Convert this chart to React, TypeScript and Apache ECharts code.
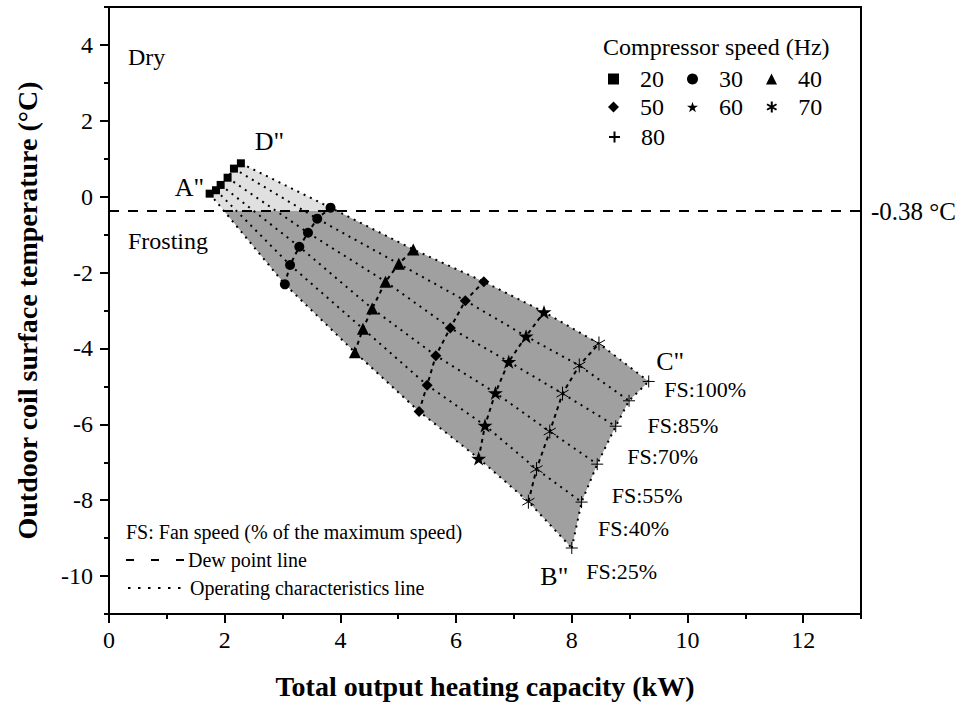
import { useEffect, useRef } from "react";
import * as echarts from "echarts";

// Fan speed (% of maximum) for each point along a compressor-speed curve
const fanSpeeds = [25, 40, 55, 70, 85, 100];
// Compressor speeds (Hz)
const compressorSpeeds = [20, 30, 40, 50, 60, 70, 80];

// Total output heating capacity (kW), one entry per fan speed
const capacity20 = [1.74, 1.85, 1.93, 2.05, 2.16, 2.28];
const capacity30 = [3.04, 3.13, 3.29, 3.44, 3.6, 3.83];
const capacity40 = [4.25, 4.39, 4.55, 4.78, 5.01, 5.26];
const capacity50 = [5.36, 5.5, 5.65, 5.9, 6.16, 6.48];
const capacity60 = [6.39, 6.5, 6.68, 6.91, 7.21, 7.52];
const capacity70 = [7.25, 7.39, 7.62, 7.84, 8.13, 8.47];
const capacity80 = [8.0, 8.17, 8.44, 8.76, 8.99, 9.33];

// Outdoor coil surface temperature (°C), one entry per fan speed
const temperature20 = [0.08, 0.17, 0.31, 0.5, 0.74, 0.88];
const temperature30 = [-2.31, -1.8, -1.32, -0.95, -0.58, -0.29];
const temperature40 = [-4.1, -3.48, -2.95, -2.24, -1.77, -1.39];
const temperature50 = [-5.66, -4.97, -4.19, -3.46, -2.74, -2.24];
const temperature60 = [-6.9, -6.03, -5.17, -4.35, -3.68, -3.04];
const temperature70 = [-8.04, -7.18, -6.19, -5.19, -4.45, -3.87];
const temperature80 = [-9.26, -8.05, -7.05, -6.05, -5.38, -4.87];

// Dew point of the outdoor air (°C)
const dewPoint = -0.38;

// Axis ticks
const xMajorTicks = [0, 2, 4, 6, 8, 10, 12];
const xMinorTicks = [1, 3, 5, 7, 9, 11, 13];
const yMajorTicks = [-10, -8, -6, -4, -2, 0, 2, 4];
const yMinorTicks = [-11, -9, -7, -5, -3, -1, 1, 3, 5];

const capacities = [capacity20, capacity30, capacity40, capacity50, capacity60, capacity70, capacity80];
const temperatures = [temperature20, temperature30, temperature40, temperature50, temperature60, temperature70, temperature80];

const FONT = '"Liberation Serif", "Times New Roman", serif';
const STAR = "path://M0,-1 L0.2245,-0.309 L0.951,-0.309 L0.363,0.118 L0.588,0.809 L0,0.382 L-0.588,0.809 L-0.363,0.118 L-0.951,-0.309 L-0.2245,-0.309 Z";
const ASTERISK = "path://M0,-1 L0,1 M-0.866,-0.5 L0.866,0.5 M-0.866,0.5 L0.866,-0.5";
const PLUS = "path://M0,-1 L0,1 M-1,0 L1,0";
const markerSymbols = ["rect", "circle", "triangle", "diamond", STAR, ASTERISK, PLUS];
const markerSizes = [8, 10, 12, 11, 15, 14, 12];
const strokedMarker = [false, false, false, false, false, true, true];

type Pt = number[];

// Outline of the operating envelope: FS 25% curve, 80 Hz curve, FS 100% curve, 20 Hz curve
function envelope(): Pt[] {
  const lastHz = compressorSpeeds.length - 1;
  const lastFan = fanSpeeds.length - 1;
  const pts: Pt[] = [];
  for (let h = 0; h <= lastHz; h++) pts.push([capacities[h][0], temperatures[h][0]]);
  for (let f = 1; f <= lastFan; f++) pts.push([capacities[lastHz][f], temperatures[lastHz][f]]);
  for (let h = lastHz - 1; h >= 0; h--) pts.push([capacities[h][lastFan], temperatures[h][lastFan]]);
  for (let f = lastFan - 1; f >= 1; f--) pts.push([capacities[0][f], temperatures[0][f]]);
  return pts;
}

// Split a polygon by the horizontal line y = level
function clipByLevel(poly: Pt[], level: number, keepAbove: boolean): Pt[] {
  const inside = (p: Pt) => (keepAbove ? p[1] >= level : p[1] <= level);
  const cross = (a: Pt, b: Pt): Pt => {
    const t = (level - a[1]) / (b[1] - a[1]);
    return [a[0] + t * (b[0] - a[0]), level];
  };
  const out: Pt[] = [];
  for (let i = 0; i < poly.length; i++) {
    const cur = poly[i];
    const prev = poly[(i + poly.length - 1) % poly.length];
    if (inside(cur)) {
      if (!inside(prev)) out.push(cross(prev, cur));
      out.push(cur);
    } else if (inside(prev)) {
      out.push(cross(prev, cur));
    }
  }
  return out;
}

export default function App() {
  const ref = useRef<HTMLDivElement>(null);

  useEffect(() => {
    if (!ref.current) return;
    const chart = echarts.init(ref.current, undefined, { renderer: "svg" });

    const outline = envelope();
    const dryRegion = clipByLevel(outline, dewPoint, true);
    const frostRegion = clipByLevel(outline, dewPoint, false);

    const lastHz = compressorSpeeds.length - 1;
    const lastFan = fanSpeeds.length - 1;

    const fanLines: any[] = fanSpeeds.map((fs, f) => ({
      name: `FS ${fs}%`,
      type: "line",
      symbol: "none",
      z: 3,
      silent: true,
      lineStyle: { color: "#000", width: 2, type: [2, 5] },
      data: compressorSpeeds.map((_, h) => [capacities[h][f], temperatures[h][f]]),
      ...(f === 0
        ? {
            markLine: {
              silent: true,
              symbol: ["none", "none"],
              z: 6,
              lineStyle: { color: "#000", width: 2, type: [10, 9] },
              label: {
                show: true,
                position: "end",
                distance: 10,
                formatter: `${dewPoint} °C`,
                fontSize: 25,
                fontFamily: FONT,
                color: "#000",
              },
              data: [{ yAxis: dewPoint }],
            },
          }
        : {}),
    }));

    const speedLines: any[] = compressorSpeeds.map((hz, h) => ({
      name: `${hz} Hz curve`,
      type: "line",
      symbol: "none",
      z: 3,
      silent: true,
      lineStyle: { color: "#000", width: 2, type: h === 0 || h === lastHz ? [2, 5] : [4, 4] },
      data: capacities[h].map((c, i) => [c, temperatures[h][i]]),
    }));

    const speedMarkers: any[] = compressorSpeeds.map((hz, h) => ({
      name: String(hz),
      type: "scatter",
      symbol: markerSymbols[h],
      symbolSize: markerSizes[h],
      symbolKeepAspect: true,
      z: 4,
      silent: true,
      itemStyle: {
        color: "#000",
        borderColor: "#000",
        borderWidth: strokedMarker[h] ? 1 : 0,
        opacity: 1,
      },
      data: capacities[h].map((c, i) => [c, temperatures[h][i]]),
    }));

    const fanLabelOffsets = [[15, 24], [17, 27], [15, 32], [12, 31], [19, 25], [16, 9]];
    const cornerLabels = [
      { text: 'A"', h: 0, f: 0, offset: [-5, -6], align: "right" },
      { text: 'B"', h: lastHz, f: 0, offset: [-17, 29], align: "center" },
      { text: 'C"', h: lastHz, f: lastFan, offset: [22, -19], align: "center" },
      { text: 'D"', h: 0, f: lastFan, offset: [29, -21], align: "center" },
    ];

    const labelData: any[] = [
      ...fanSpeeds.map((fs, f) => ({
        value: [capacities[lastHz][f], temperatures[lastHz][f]],
        label: {
          show: true,
          formatter: `FS:${fs}%`,
          position: fanLabelOffsets[f],
          align: "left",
          verticalAlign: "middle",
          fontSize: 22,
          fontFamily: FONT,
          color: "#000",
          opacity: 1,
        },
      })),
      ...cornerLabels.map((c) => ({
        value: [capacities[c.h][c.f], temperatures[c.h][c.f]],
        label: {
          show: true,
          formatter: c.text,
          position: c.offset,
          align: c.align,
          verticalAlign: "middle",
          fontSize: 26,
          fontFamily: FONT,
          color: "#000",
          opacity: 1,
        },
      })),
    ];

    const axisText = { fontSize: 24, fontFamily: FONT, color: "#000" };
    const titleText = { fontSize: 28, fontWeight: "bold", fontFamily: FONT, color: "#000" };
    const tickLine = { color: "#000", width: 2 };

    const legendRows = [
      ["20", "30", "40"],
      ["50", "60", "70"],
      ["80"],
    ];
    const legendTops = [67, 95, 125];

    const noteText = (text: string, x: number, y: number, size: number) => ({
      type: "text",
      x,
      y,
      silent: true,
      style: { text, fontSize: size, fontFamily: FONT, fill: "#000", align: "left", verticalAlign: "middle" },
    });

    chart.setOption({
      animation: false,
      backgroundColor: "#fff",
      grid: {
        left: 109,
        top: 7,
        width: 752,
        height: 607,
        show: true,
        borderColor: "#000",
        borderWidth: 2,
        backgroundColor: "transparent",
        containLabel: false,
      },
      xAxis: [
        {
          type: "value",
          min: 0,
          max: 13,
          name: "Total output heating capacity (kW)",
          nameLocation: "middle",
          nameGap: 58,
          nameTextStyle: titleText,
          axisLine: { show: true, onZero: false, lineStyle: tickLine },
          axisTick: { show: true, customValues: xMajorTicks, length: 9, lineStyle: tickLine },
          axisLabel: { show: true, customValues: xMajorTicks, margin: 14, ...axisText },
          splitLine: { show: false },
        },
        {
          type: "value",
          min: 0,
          max: 13,
          position: "bottom",
          axisLine: { show: false, onZero: false },
          axisTick: { show: true, customValues: xMinorTicks, length: 5, lineStyle: tickLine },
          axisLabel: { show: false },
          splitLine: { show: false },
        },
      ],
      yAxis: [
        {
          type: "value",
          min: -11,
          max: 5,
          name: "Outdoor coil surface temperature (°C)",
          nameLocation: "middle",
          nameRotate: 90,
          nameGap: 68,
          nameTextStyle: titleText,
          axisLine: { show: true, onZero: false, lineStyle: tickLine },
          axisTick: { show: true, customValues: yMajorTicks, length: 9, lineStyle: tickLine },
          axisLabel: { show: true, customValues: yMajorTicks, margin: 16, ...axisText },
          splitLine: { show: false },
        },
        {
          type: "value",
          min: -11,
          max: 5,
          position: "left",
          axisLine: { show: false, onZero: false },
          axisTick: { show: true, customValues: yMinorTicks, length: 5, lineStyle: tickLine },
          axisLabel: { show: false },
          splitLine: { show: false },
        },
      ],
      legend: legendRows.map((row, r) => ({
        data: row,
        left: 608,
        top: legendTops[r],
        orient: "horizontal",
        padding: 0,
        itemWidth: 11,
        itemHeight: 11,
        itemGap: 23,
        selectedMode: false,
        textStyle: { fontSize: 24, fontFamily: FONT, color: "#000", padding: [0, 0, 0, 16] },
      })),
      graphic: [
        noteText("Compressor speed (Hz)", 603, 47, 24),
        noteText("Dry", 128, 57, 24),
        noteText("Frosting", 128, 241, 24),
        noteText("FS: Fan speed (% of the maximum speed)", 126, 532, 20),
        {
          type: "line",
          silent: true,
          shape: { x1: 126, y1: 560, x2: 185, y2: 560 },
          style: { stroke: "#000", lineWidth: 2, lineDash: [8, 17] },
        },
        noteText("Dew point line", 188, 560, 20),
        {
          type: "line",
          silent: true,
          shape: { x1: 128, y1: 588, x2: 186, y2: 588 },
          style: { stroke: "#000", lineWidth: 2, lineDash: [2.5, 7.5] },
        },
        noteText("Operating characteristics line", 190, 588, 20),
      ],
      series: [
        {
          name: "envelope",
          type: "custom",
          silent: true,
          z: 1,
          data: [[0, 0]],
          renderItem: (_params: any, api: any) => ({
            type: "group",
            children: [
              {
                type: "polygon",
                shape: { points: dryRegion.map((p) => api.coord(p)) },
                style: { fill: "#e0e0e0", stroke: "none" },
              },
              {
                type: "polygon",
                shape: { points: frostRegion.map((p) => api.coord(p)) },
                style: { fill: "#a0a0a0", stroke: "none" },
              },
            ],
          }),
        },
        ...fanLines,
        ...speedLines,
        ...speedMarkers,
        {
          name: "annotations",
          type: "scatter",
          symbol: "circle",
          symbolSize: 1,
          silent: true,
          z: 6,
          itemStyle: { color: "rgba(0,0,0,0)", opacity: 1 },
          data: labelData,
        },
      ],
    });

    return () => chart.dispose();
  }, []);

  return (
    <div
      ref={ref}
      style={{ position: "absolute", left: 0, top: 0, width: 963, height: 706 }}
    />
  );
}
